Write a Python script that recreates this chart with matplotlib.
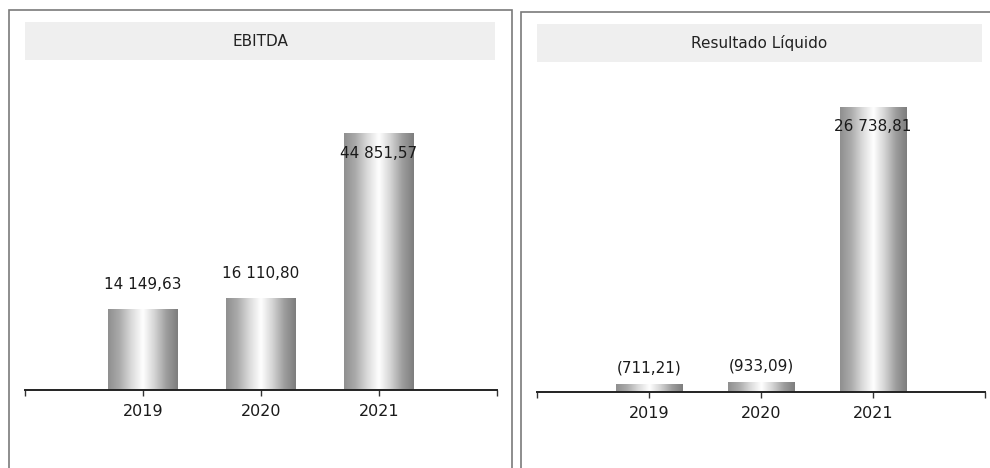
import numpy as np
import matplotlib
matplotlib.use('Agg')
import matplotlib.pyplot as plt
from matplotlib.patches import Rectangle
from matplotlib.colors import LinearSegmentedColormap

years = ['2019', '2020', '2021']
ebitda = [14149.63, 16110.80, 44851.57]
resultado = [-711.21, -933.09, 26738.81]
titles = ['EBITDA', 'Resultado Líquido']

W, H = 990, 468
fig = plt.figure(figsize=(W / 100, H / 100), dpi=100)

# cylinder shading for the bars
shade = LinearSegmentedColormap.from_list(
    'cyl', ['#8f8f8f', '#ababab', '#dadada', '#ffffff', '#d4d4d4', '#9e9e9e', '#7d7d7d'])
grad = np.linspace(0, 1, 256).reshape(1, -1)


def fmt(v):
    s = f'{abs(v):,.2f}'.replace(',', ' ').replace('.', ',')
    return f'({s})' if v < 0 else s


def px_axes(x0, x1, ybot, ytop):
    return fig.add_axes([x0 / W, (H - ybot) / H, (x1 - x0) / W, (ybot - ytop) / H])


def panel(ax, values, ymax, above):
    x = np.arange(len(values))
    heights = np.abs(values)
    bars = ax.bar(x, heights, width=0.59, color='none', edgecolor='none')
    for b in bars:
        im = ax.imshow(grad, cmap=shade, aspect='auto', interpolation='bicubic',
                       extent=[b.get_x(), b.get_x() + b.get_width(), 0, b.get_height()],
                       zorder=2)
        im.set_clip_path(b)
    top = max(heights)
    for xi, h, v in zip(x, heights, values):
        off = -20 if h == top else above
        ax.annotate(fmt(v), (xi, h), xytext=(0, off), textcoords='offset pixels',
                    ha='center', va='center', fontsize=11, color='#1a1a1a', zorder=3)
    ax.set_xlim(-1, 3)
    ax.set_ylim(0, ymax)
    ax.set_xticks(x)
    ax.set_xticklabels(years, fontsize=11.5, color='#1a1a1a')
    ax.set_xticks([-1, 3], minor=True)
    ax.tick_params(axis='x', which='both', direction='out', length=4, width=1,
                   color='#333333', pad=6)
    ax.set_yticks([])
    for s in ['top', 'right', 'left']:
        ax.spines[s].set_visible(False)
    ax.spines['bottom'].set_color('#222222')
    ax.spines['bottom'].set_linewidth(1.4)
    ax.patch.set_alpha(0)


ax1 = px_axes(25, 497, 390, 70)
panel(ax1, ebitda, 55850, 24)
ax2 = px_axes(537, 985, 392, 70)
panel(ax2, resultado, 30210, 16)

# panel frames and title bands
for (x0, x1, y0) in [(9, 512, 10), (521, 1000, 12)]:
    fig.patches.append(Rectangle((x0 / W, -0.05), (x1 - x0) / W, (H - y0) / H + 0.05,
                                 transform=fig.transFigure, fill=False,
                                 edgecolor='#7a7a7a', linewidth=1.2))
for (x0, x1, y0, y1), t in zip([(25, 495, 22, 60), (537, 982, 24, 62)], titles):
    fig.patches.append(Rectangle((x0 / W, (H - y1) / H), (x1 - x0) / W, (y1 - y0) / H,
                                 transform=fig.transFigure, facecolor='#efefef',
                                 edgecolor='none'))
    fig.text((x0 + x1) / 2 / W, (H - (y0 + y1) / 2) / H, t, ha='center', va='center',
             fontsize=11, color='#222222')

fig.savefig('out.png', dpi=100)
